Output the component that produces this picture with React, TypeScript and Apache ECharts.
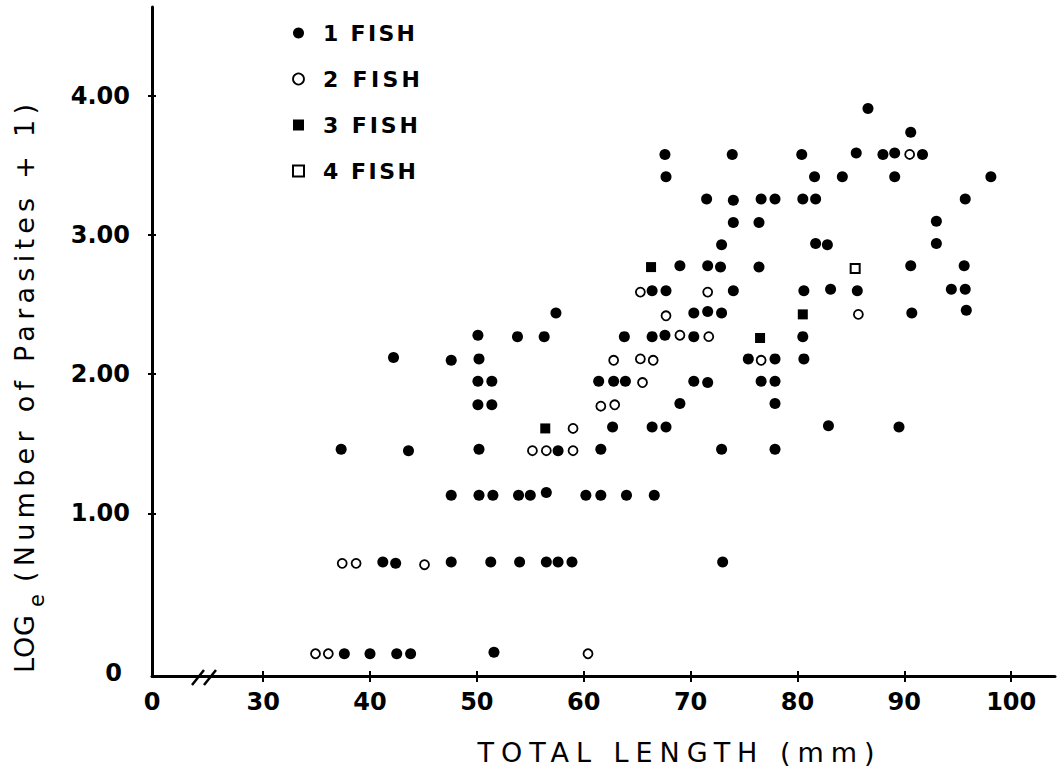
import React, { useEffect, useRef } from "react";
import * as echarts from "echarts";

// Axis extents (total length in mm, log_e(parasites + 1))
const X_MIN = 19.6;
const X_MAX = 104.1;
const Y_MIN = -0.17;
const Y_MAX = 4.64;

const xTickValues = [30, 40, 50, 60, 70, 80, 90, 100];
const yTickValues = [1, 2, 3, 4];
const seriesNames = ["1 FISH", "2 FISH", "3 FISH", "4 FISH"];

// [total length (mm), log_e(number of parasites + 1)]
const oneFish: [number, number][] = [
  [37.6, -0.01], [40.0, -0.01], [42.5, -0.01], [43.8, -0.01], [51.6, 0.0],
  [41.2, 0.65], [42.4, 0.64], [47.6, 0.65], [51.3, 0.65], [54.0, 0.65], [56.5, 0.65], [57.6, 0.65], [58.9, 0.65], [73.0, 0.65],
  [47.6, 1.13], [50.2, 1.13], [51.5, 1.13], [53.9, 1.13], [55.0, 1.13], [56.5, 1.15], [60.2, 1.13], [61.6, 1.13], [64.0, 1.13], [66.6, 1.13],
  [37.3, 1.46], [43.6, 1.45], [50.2, 1.46], [57.6, 1.45], [61.6, 1.46], [72.9, 1.46], [77.9, 1.46],
  [62.7, 1.62], [66.4, 1.62], [67.7, 1.62], [82.9, 1.63], [89.5, 1.62],
  [50.1, 1.78], [51.4, 1.78], [69.0, 1.79], [77.9, 1.79],
  [50.1, 1.95], [51.4, 1.95], [61.4, 1.95], [62.8, 1.95], [63.9, 1.95], [70.3, 1.95], [71.6, 1.94], [76.6, 1.95], [77.9, 1.95],
  [42.2, 2.12], [47.6, 2.1], [50.2, 2.11], [75.4, 2.11], [77.9, 2.11], [80.6, 2.11],
  [50.1, 2.28], [53.8, 2.27], [56.3, 2.27], [63.8, 2.27], [66.4, 2.27], [67.6, 2.28], [70.3, 2.27], [80.5, 2.27],
  [57.4, 2.44], [70.3, 2.44], [71.6, 2.45], [72.9, 2.44], [90.7, 2.44], [95.8, 2.46],
  [66.4, 2.6], [67.7, 2.6], [74.0, 2.6], [80.6, 2.6], [83.1, 2.61], [85.6, 2.6], [94.4, 2.61], [95.7, 2.61],
  [69.0, 2.78], [71.6, 2.78], [72.8, 2.77], [76.4, 2.77], [90.6, 2.78], [95.6, 2.78],
  [72.9, 2.93], [81.7, 2.94], [82.8, 2.93], [93.0, 2.94],
  [74.0, 3.09], [76.4, 3.09], [93.0, 3.1],
  [71.5, 3.26], [74.0, 3.25], [76.6, 3.26], [77.9, 3.26], [80.5, 3.26], [81.7, 3.26], [95.7, 3.26],
  [67.7, 3.42], [81.6, 3.42], [84.2, 3.42], [89.1, 3.42], [98.1, 3.42],
  [67.6, 3.58], [73.9, 3.58], [80.4, 3.58], [85.5, 3.59], [88.0, 3.58], [89.1, 3.59], [91.7, 3.58],
  [90.6, 3.74], [86.6, 3.91],
];

const twoFish: [number, number][] = [
  [34.9, -0.01], [36.1, -0.01], [60.4, -0.01],
  [37.4, 0.64], [38.7, 0.64], [45.1, 0.63],
  [55.2, 1.45], [56.5, 1.45], [59.0, 1.45],
  [59.0, 1.61],
  [61.6, 1.77], [62.9, 1.78],
  [65.5, 1.94],
  [62.8, 2.1], [65.3, 2.11], [66.5, 2.1], [76.6, 2.1],
  [69.0, 2.28], [71.7, 2.27],
  [67.7, 2.42], [85.7, 2.43],
  [65.3, 2.59], [71.6, 2.59],
  [90.5, 3.58],
];

const threeFish: [number, number][] = [
  [56.4, 1.61], [76.5, 2.26], [80.5, 2.43], [66.3, 2.77],
];

const fourFish: [number, number][] = [[85.4, 2.76]];

const FONT = '"DejaVu Sans", sans-serif';
const BLACK = "#000";

const textFits: [string, number][] = [
  ["TOTAL LENGTH (mm)", 397],
  ["LOG", 58],
  ["(Number of Parasites + 1)", 478],
  ["1 FISH", 92],
  ["2 FISH", 97],
  ["3 FISH", 95],
  ["4 FISH", 93],
];

function buildOption(): any {
  const tickLine = { color: BLACK, width: 2 };
  const titleFont = `27px ${FONT}`;
  return {
    animation: false,
    backgroundColor: "#fff",
    grid: { left: 152, right: 7, top: 7, bottom: 100 },
    xAxis: [
      {
        type: "value",
        position: "bottom",
        min: X_MIN,
        max: X_MAX,
        splitLine: { show: false },
        axisLine: { show: true, onZero: false, lineStyle: { color: BLACK, width: 3 } },
        axisTick: { show: true, customValues: xTickValues, length: 6, lineStyle: tickLine },
        axisLabel: {
          customValues: [X_MIN, ...xTickValues],
          formatter: (v: number) => (v < 25 ? "0" : String(Math.round(v))),
          color: BLACK,
          fontFamily: FONT,
          fontWeight: "bold",
          fontSize: 24,
          margin: 14,
        },
      },
      {
        type: "value",
        position: "bottom",
        min: X_MIN,
        max: X_MAX,
        splitLine: { show: false },
        axisLine: { show: false, onZero: false },
        axisLabel: { show: false },
        axisTick: { show: true, inside: true, customValues: xTickValues, length: 5, lineStyle: tickLine },
      },
    ],
    yAxis: [
      {
        type: "value",
        position: "left",
        min: Y_MIN,
        max: Y_MAX,
        splitLine: { show: false },
        axisLine: { show: true, onZero: false, lineStyle: { color: BLACK, width: 3 } },
        axisTick: { show: true, customValues: yTickValues, length: 4, lineStyle: tickLine },
        axisLabel: {
          customValues: [Y_MIN, ...yTickValues],
          formatter: (v: number) => (v < 0.5 ? "{z|0}" : v.toFixed(2)),
          color: BLACK,
          fontFamily: FONT,
          fontWeight: "bold",
          fontSize: 24,
          margin: 22,
          rich: { z: { fontFamily: FONT, fontWeight: "bold", fontSize: 24, color: BLACK, padding: [0, 8, 6, 0] } },
        },
      },
      {
        type: "value",
        position: "left",
        min: Y_MIN,
        max: Y_MAX,
        splitLine: { show: false },
        axisLine: { show: false, onZero: false },
        axisLabel: { show: false },
        axisTick: { show: true, inside: true, customValues: yTickValues, length: 4, lineStyle: tickLine },
      },
    ],
    legend: {
      orient: "vertical",
      left: 292,
      top: 21,
      padding: 0,
      itemGap: 22,
      itemWidth: 11,
      itemHeight: 11,
      selectedMode: false,
      textStyle: { fontFamily: FONT, fontWeight: "bold", fontSize: 22, color: BLACK, lineHeight: 24, padding: [0, 0, 0, 14] },
      data: [
        { name: seriesNames[0], icon: "circle", itemStyle: { color: BLACK, opacity: 1 } },
        { name: seriesNames[1], icon: "circle", itemStyle: { color: "#fff", borderColor: BLACK, borderWidth: 1.8, opacity: 1 } },
        { name: seriesNames[2], icon: "rect", itemStyle: { color: BLACK, opacity: 1 } },
        { name: seriesNames[3], icon: "rect", itemStyle: { color: "#fff", borderColor: BLACK, borderWidth: 2, opacity: 1 } },
      ],
    },
    series: [
      {
        name: seriesNames[0], type: "scatter", data: oneFish, symbol: "circle", symbolSize: 11,
        itemStyle: { color: BLACK, opacity: 1 }, silent: true,
      },
      {
        name: seriesNames[1], type: "scatter", data: twoFish, symbol: "circle", symbolSize: 9,
        itemStyle: { color: "#fff", borderColor: BLACK, borderWidth: 1.8, opacity: 1 }, silent: true, z: 3,
      },
      {
        name: seriesNames[2], type: "scatter", data: threeFish, symbol: "rect", symbolSize: 10,
        itemStyle: { color: BLACK, opacity: 1 }, silent: true,
      },
      {
        name: seriesNames[3], type: "scatter", data: fourFish, symbol: "rect", symbolSize: 9,
        itemStyle: { color: "#fff", borderColor: BLACK, borderWidth: 2, opacity: 1 }, silent: true,
      },
    ],
    graphic: [
      { type: "line", z: 100, shape: { x1: 192, y1: 685, x2: 204, y2: 670 }, style: { stroke: BLACK, lineWidth: 2.5 } },
      { type: "line", z: 100, shape: { x1: 204, y1: 685, x2: 216, y2: 670 }, style: { stroke: BLACK, lineWidth: 2.5 } },
      {
        type: "text", x: 676, y: 752,
        style: { text: "TOTAL LENGTH (mm)", font: titleFont, fill: BLACK, textAlign: "center", textVerticalAlign: "middle", align: "center", verticalAlign: "middle" },
      },
      {
        type: "text", x: 24, y: 673, rotation: Math.PI / 2,
        style: { text: "LOG", font: titleFont, fill: BLACK, textAlign: "left", textVerticalAlign: "middle", align: "left", verticalAlign: "middle" },
      },
      {
        type: "text", x: 37, y: 607, rotation: Math.PI / 2,
        style: { text: "e", font: `21px ${FONT}`, fill: BLACK, textAlign: "left", textVerticalAlign: "middle", align: "left", verticalAlign: "middle" },
      },
      {
        type: "text", x: 24, y: 582, rotation: Math.PI / 2,
        style: { text: "(Number of Parasites + 1)", font: titleFont, fill: BLACK, textAlign: "left", textVerticalAlign: "middle", align: "left", verticalAlign: "middle" },
      },
    ],
  };
}

export default function App() {
  const ref = useRef<HTMLDivElement>(null);
  useEffect(() => {
    const prevMargin = document.body.style.margin;
    document.body.style.margin = "0";
    const el = ref.current;
    if (!el) return;
    const chart = echarts.init(el, null, { renderer: "svg" });
    chart.setOption(buildOption());
    const fit = () => {
      el.querySelectorAll("text").forEach((t) => {
        const content = (t.textContent || "").trim();
        for (const [label, len] of textFits) {
          if (content === label) {
            t.setAttribute("textLength", String(len));
            t.setAttribute("lengthAdjust", "spacing");
          }
        }
      });
    };
    fit();
    chart.on("finished", fit);
    const timer = window.setTimeout(fit, 100);
    return () => {
      window.clearTimeout(timer);
      chart.dispose();
      document.body.style.margin = prevMargin;
    };
  }, []);
  return <div ref={ref} style={{ width: 1062, height: 776 }} />;
}
